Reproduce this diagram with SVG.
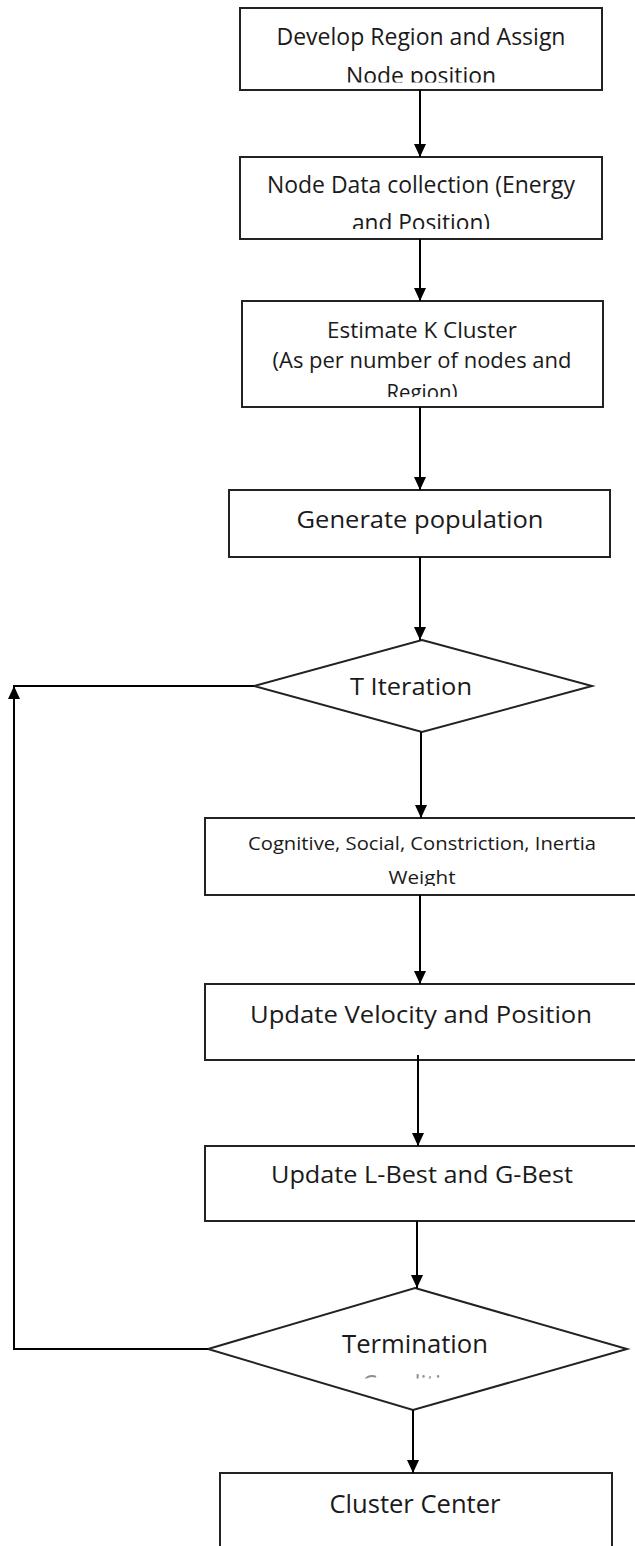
<svg xmlns="http://www.w3.org/2000/svg" width="635" height="1546" viewBox="0 0 635 1546">
<style>
.box{fill:#fff;stroke:#222;stroke-width:2}
.dia{fill:#fff;stroke:#222;stroke-width:2}
.t{font-family:"Open Sans","Noto Sans","DejaVu Sans",sans-serif;fill:#1a1a1a;text-anchor:middle}
.c{fill:none;stroke:#000;stroke-width:2}
</style>
<defs>
<marker id="ah" markerUnits="userSpaceOnUse" markerWidth="13" markerHeight="12" refX="13" refY="6" orient="auto">
<path d="M0,0 L13,6 L0,12 Z" fill="#000"/>
</marker>
<clipPath id="c1" clipPathUnits="userSpaceOnUse"><rect x="240" y="55" width="362" height="27.5"/></clipPath>
<clipPath id="c2" clipPathUnits="userSpaceOnUse"><rect x="240" y="200" width="362" height="29"/></clipPath>
<clipPath id="c3" clipPathUnits="userSpaceOnUse"><rect x="242" y="375" width="361" height="22"/></clipPath>
<clipPath id="c5" clipPathUnits="userSpaceOnUse"><rect x="205" y="860" width="430" height="26"/></clipPath>
<clipPath id="c9" clipPathUnits="userSpaceOnUse"><rect x="300" y="1373" width="230" height="5.5"/></clipPath>
</defs>
<rect width="635" height="1546" fill="#fff"/>

<g id="node-develop">
<rect class="box" x="240" y="8" width="362" height="82"/>
<text class="t" x="421" y="45" font-size="23" textLength="289" lengthAdjust="spacingAndGlyphs">Develop Region and Assign</text>
<text class="t" x="421" y="84" font-size="23" textLength="150" lengthAdjust="spacingAndGlyphs" clip-path="url(#c1)">Node position</text>
</g>

<g id="node-collect">
<rect class="box" x="240" y="157" width="362" height="82"/>
<text class="t" x="421" y="193" font-size="23" textLength="308" lengthAdjust="spacingAndGlyphs">Node Data collection (Energy</text>
<text class="t" x="421" y="231" font-size="23" textLength="138" lengthAdjust="spacingAndGlyphs" clip-path="url(#c2)">and Position)</text>
</g>

<g id="node-estimate">
<rect class="box" x="242" y="301" width="361" height="106"/>
<text class="t" x="422" y="338" font-size="22" textLength="190" lengthAdjust="spacingAndGlyphs">Estimate K Cluster</text>
<text class="t" x="422" y="368" font-size="22" textLength="299" lengthAdjust="spacingAndGlyphs">(As per number of nodes and</text>
<text class="t" x="422" y="400" font-size="22" textLength="71" lengthAdjust="spacingAndGlyphs" clip-path="url(#c3)">Region)</text>
</g>

<g id="node-generate">
<rect class="box" x="229" y="490" width="381" height="67"/>
<text class="t" x="420" y="528" font-size="23" textLength="247" lengthAdjust="spacingAndGlyphs">Generate population</text>
</g>

<g id="node-titeration">
<polygon class="dia" points="422,640 592,686 422,732 254,686"/>
<text class="t" x="411" y="695" font-size="23" textLength="122" lengthAdjust="spacingAndGlyphs">T Iteration</text>
</g>

<g id="node-cognitive">
<rect class="box" x="205" y="818" width="440" height="77"/>
<text class="t" x="422" y="850" font-size="19" textLength="348" lengthAdjust="spacingAndGlyphs">Cognitive, Social, Constriction, Inertia</text>
<text class="t" x="422" y="884" font-size="19" textLength="67" lengthAdjust="spacingAndGlyphs" clip-path="url(#c5)">Weight</text>
</g>

<g id="node-velocity">
<rect class="box" x="205" y="984" width="440" height="76"/>
<text class="t" x="421" y="1023" font-size="23" textLength="342" lengthAdjust="spacingAndGlyphs">Update Velocity and Position</text>
</g>

<g id="node-best">
<rect class="box" x="205" y="1146" width="440" height="75"/>
<text class="t" x="422" y="1183" font-size="23" textLength="302" lengthAdjust="spacingAndGlyphs">Update L-Best and G-Best</text>
</g>

<g id="node-termination">
<polygon class="dia" points="415,1288 627,1349 413,1410 208,1349"/>
<text class="t" x="415" y="1353" font-size="25" textLength="146" lengthAdjust="spacingAndGlyphs">Termination</text>
<text class="t" x="416" y="1393" font-size="25" textLength="108" lengthAdjust="spacingAndGlyphs" clip-path="url(#c9)" fill-opacity="0.5">Condition</text>
</g>

<g id="node-cluster">
<rect class="box" x="220" y="1473" width="392" height="90"/>
<text class="t" x="415" y="1513" font-size="25" textLength="171" lengthAdjust="spacingAndGlyphs">Cluster Center</text>
</g>

<g id="connectors">
<path class="c" d="M420,90 V157" marker-end="url(#ah)"/>
<path class="c" d="M420,239 V301" marker-end="url(#ah)"/>
<path class="c" d="M420,407 V490" marker-end="url(#ah)"/>
<path class="c" d="M420,557 V640" marker-end="url(#ah)"/>
<path class="c" d="M421,732 V818" marker-end="url(#ah)"/>
<path class="c" d="M420,895 V984" marker-end="url(#ah)"/>
<path class="c" d="M418,1055 V1146" marker-end="url(#ah)"/>
<path class="c" d="M417,1221 V1288" marker-end="url(#ah)"/>
<path class="c" d="M413,1410 V1473" marker-end="url(#ah)"/>
<path class="c" d="M208,1349 H14 V686" marker-end="url(#ah)"/>
<path class="c" d="M13,686 H254"/>
</g>
</svg>
